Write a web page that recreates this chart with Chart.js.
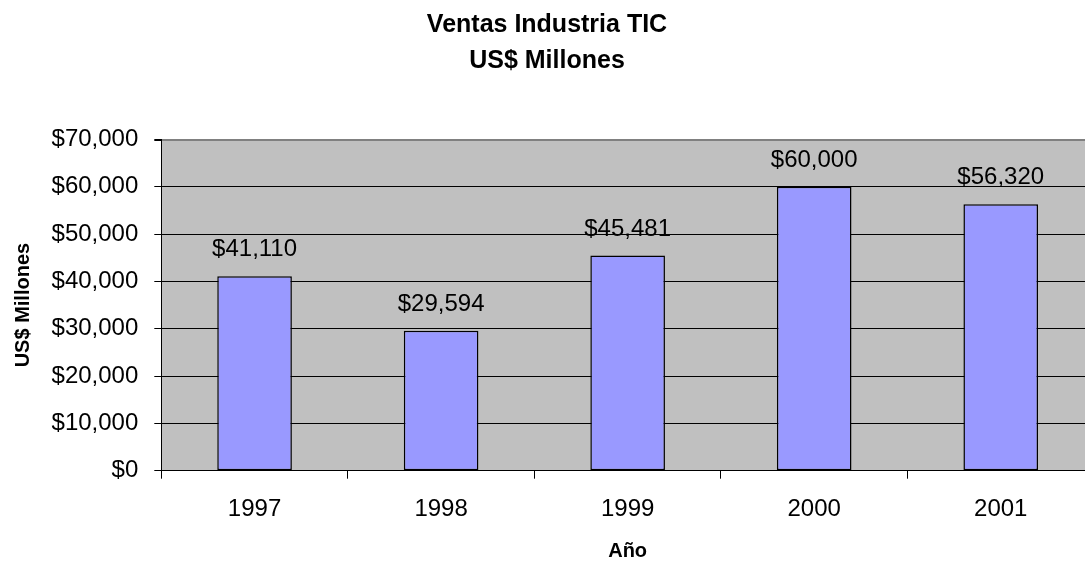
<!DOCTYPE html>
<html>
<head>
<meta charset="utf-8">
<script src="https://cdn.jsdelivr.net/npm/chart.js@4.4.1/dist/chart.umd.min.js"></script>
<style>
  html, body { margin: 0; padding: 0; background: #fff; overflow: hidden; }
</style>
</head>
<body>
<canvas id="myChart" width="1095" height="563"></canvas>
<script>
const years = ["1997", "1998", "1999", "2000", "2001"];
const ventas = [41110, 29594, 45481, 60000, 56320];
const yTicks = [0, 10000, 20000, 30000, 40000, 50000, 60000, 70000];

const FONT = "'Liberation Sans', Arial, sans-serif";
const money = (v) => "$" + v.toLocaleString("en-US");

// gray plot area behind the bars
const plotBg = {
  id: "plotBg",
  beforeDraw(chart) {
    const { ctx, chartArea } = chart;
    ctx.save();
    ctx.fillStyle = "#c0c0c0";
    ctx.fillRect(chartArea.left, chartArea.top, chartArea.right - chartArea.left, chartArea.bottom - chartArea.top);
    ctx.restore();
  },
};

// value labels over each bar
const barLabels = {
  id: "barLabels",
  afterDatasetsDraw(chart) {
    const { ctx } = chart;
    const meta = chart.getDatasetMeta(0);
    ctx.save();
    ctx.font = "24px " + FONT;
    ctx.fillStyle = "#000";
    ctx.textAlign = "center";
    ctx.textBaseline = "alphabetic";
    meta.data.forEach((bar, i) => {
      ctx.fillText(money(ventas[i]), bar.x, bar.y - 20);
    });
    ctx.restore();
  },
};

new Chart(document.getElementById("myChart"), {
  type: "bar",
  data: {
    labels: years,
    datasets: [
      {
        data: ventas,
        backgroundColor: "#9999ff",
        borderColor: "#000",
        borderWidth: 1.5,
        borderSkipped: false,
        barPercentage: 0.4,
        categoryPercentage: 1,
      },
    ],
  },
  options: {
    responsive: false,
    animation: false,
    layout: { padding: { left: 0, right: 1, top: 0, bottom: 0 } },
    plugins: {
      legend: { display: false },
      tooltip: { enabled: false },
      title: {
        display: true,
        text: ["Ventas Industria TIC", "US$ Millones"],
        color: "#000",
        font: { family: FONT, size: 25, weight: "bold", lineHeight: 36.5 / 25 },
        padding: { top: 6.75, bottom: 59.75 },
      },
    },
    scales: {
      x: {
        afterFit(scale) { scale.height = 92.3; },
        grid: { drawOnChartArea: false, drawTicks: true, tickLength: 8, color: "#000", offset: true },
        border: { color: "#000", width: 1 },
        ticks: { color: "#000", font: { family: FONT, size: 24 }, padding: 16 },
        title: {
          display: true,
          text: "Año",
          color: "#000",
          font: { family: FONT, size: 20, weight: "bold" },
          padding: { top: 0, bottom: 0 },
        },
      },
      y: {
        min: 0,
        max: 70000,
        afterFit(scale) { scale.width = 161.3; },
        afterBuildTicks(scale) { scale.ticks = yTicks.map((v) => ({ value: v })); },
        grid: {
          color: (c) => (c.tick && c.tick.value === 70000 ? "#808080" : "#000"),
          lineWidth: (c) => (c.tick && c.tick.value === 70000 ? 2 : 1),
          tickLength: 7,
          tickColor: "#000",
        },
        border: { color: "#000", width: 1 },
        ticks: {
          color: "#000",
          font: { family: FONT, size: 24 },
          padding: 16,
          callback: (v) => money(v),
        },
        title: {
          display: true,
          text: "US$ Millones",
          color: "#000",
          font: { family: FONT, size: 20, weight: "bold" },
          padding: { top: 11, bottom: 0 },
        },
      },
    },
  },
  plugins: [plotBg, barLabels],
});
</script>
</body>
</html>
